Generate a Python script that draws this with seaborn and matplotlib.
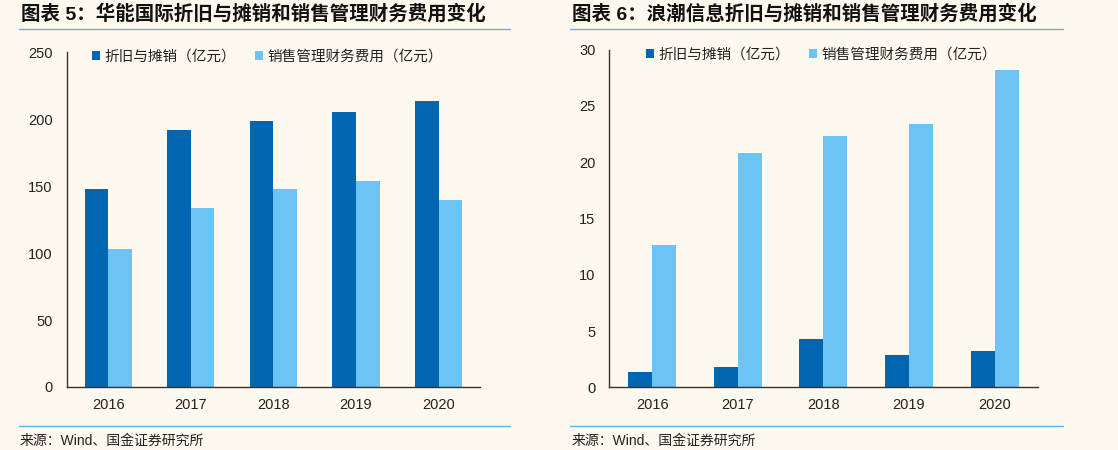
import numpy as np
import pandas as pd
import matplotlib
matplotlib.use("Agg")
import matplotlib.pyplot as plt
from matplotlib.lines import Line2D
from matplotlib.ticker import FixedLocator
import seaborn as sns

years = ["2016", "2017", "2018", "2019", "2020"]
series_names = ["折旧与摊销（亿元）", "销售管理财务费用（亿元）"]

huaneng_dep = [148.1, 191.8, 198.5, 205.2, 213.2]
huaneng_exp = [102.8, 133.9, 147.4, 153.8, 139.3]

inspur_dep = [1.36, 1.78, 4.32, 2.90, 3.22]
inspur_exp = [12.6, 20.8, 22.3, 23.4, 28.2]

title_left = "图表 5：华能国际折旧与摊销和销售管理财务费用变化"
title_right = "图表 6：浪潮信息折旧与摊销和销售管理财务费用变化"
source_text = "来源：Wind、国金证券研究所"

DARK = "#0066B2"
LIGHT = "#6CC4F4"
BG = "#FEF9EE"
RULE = "#5BB4DE"
AXC = "#333333"

sns.set_theme(style="white")
plt.rcParams["font.family"] = ["Liberation Sans", "Noto Sans CJK SC", "DejaVu Sans"]
plt.rcParams["axes.unicode_minus"] = False


def make_df(dep, exp):
    rows = []
    for y, v in zip(years, dep):
        rows.append({"year": y, "value": v, "series": series_names[0]})
    for y, v in zip(years, exp):
        rows.append({"year": y, "value": v, "series": series_names[1]})
    return pd.DataFrame(rows)


fig = plt.figure(figsize=(11.18, 4.5), dpi=100, facecolor=BG)

ax1 = fig.add_axes([0.0597, 0.14, 0.3696, 0.7444])
ax2 = fig.add_axes([0.545, 0.1393, 0.383, 0.7507])


def style(ax, df, ymax, yticks, width, leg_x):
    ax.set_facecolor(BG)
    sns.barplot(data=df, x="year", y="value", hue="series",
                palette=[DARK, LIGHT], saturation=1, width=width,
                ax=ax, errorbar=None, linewidth=0, edgecolor="none")
    ax.set_ylim(0, ymax)
    ax.set_xlim(-0.5, 4.5)
    ax.set_yticks(yticks)
    ax.set_xlabel("")
    ax.set_ylabel("")
    for s in ["top", "right"]:
        ax.spines[s].set_visible(False)
    for s in ["left", "bottom"]:
        ax.spines[s].set_color(AXC)
        ax.spines[s].set_linewidth(1.0)
    ax.tick_params(axis="x", which="major", length=0, labelsize=10.5,
                   colors="#222222", pad=8)
    ax.xaxis.set_minor_locator(FixedLocator([0.5, 1.5, 2.5, 3.5, 4.5]))
    ax.tick_params(axis="x", which="minor", direction="in", length=3,
                   color=AXC, width=1.0)
    ax.tick_params(axis="y", direction="in", length=3, color=AXC,
                   labelsize=10.5, labelcolor="#222222", pad=10)
    leg = ax.legend(loc="center left", bbox_to_anchor=(leg_x, 0.985),
                    ncol=2, frameon=False, fontsize=10.5,
                    handlelength=0.55, handleheight=0.55, handletextpad=0.3,
                    columnspacing=1.3, borderaxespad=0)
    for t in leg.get_texts():
        t.set_color("#222222")


style(ax1, make_df(huaneng_dep, huaneng_exp), 250, [0, 50, 100, 150, 200, 250], 0.57, 0.048)
style(ax2, make_df(inspur_dep, inspur_exp), 30, [0, 5, 10, 15, 20, 25, 30], 0.56, 0.073)

# titles
for x, t in [(21, title_left), (572, title_right)]:
    fig.text(x / 1118, 1 - 14 / 450, t, fontsize=14, fontweight="bold",
             color="#111111", va="center", ha="left",
             family=["Liberation Sans", "Noto Sans CJK SC"])

# rules
for x0, x1 in [(19, 510), (570, 1063)]:
    fig.add_artist(Line2D([x0 / 1118, x1 / 1118], [1 - 29 / 450, 1 - 29 / 450],
                          color=RULE, lw=1.0, transform=fig.transFigure))
    fig.add_artist(Line2D([x0 / 1118, x1 / 1118], [1 - 426 / 450, 1 - 426 / 450],
                          color=RULE, lw=1.0, transform=fig.transFigure))

# sources
for x in [20, 572]:
    fig.text(x / 1118, 1 - 441 / 450, source_text, fontsize=10, color="#222222",
             va="center", ha="left")

fig.savefig("out.png", dpi=100, facecolor=BG)
